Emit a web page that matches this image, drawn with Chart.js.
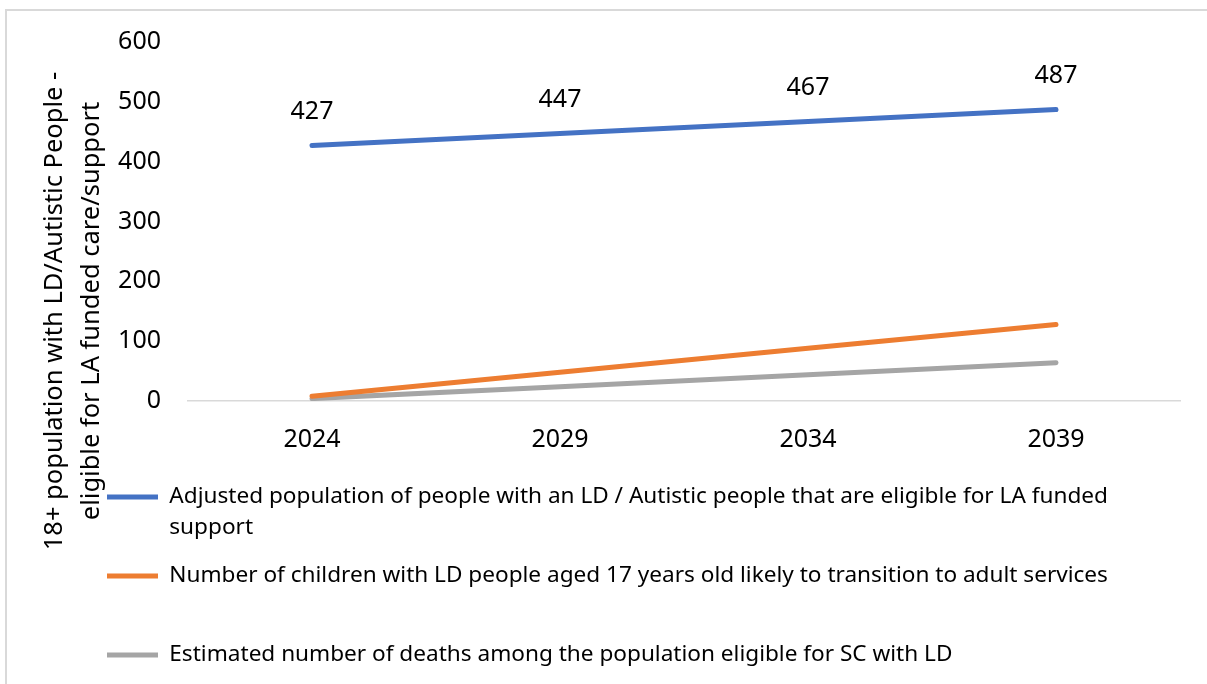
<!DOCTYPE html>
<html><head><meta charset="utf-8">
<script src="https://cdn.jsdelivr.net/npm/chart.js@4.4.1/dist/chart.umd.min.js"></script>
<style>
html,body{margin:0;padding:0;background:#fff;overflow:hidden;}
#frame{position:absolute;left:5px;top:9px;width:1400px;height:900px;border:2px solid #d9d9d9;box-sizing:border-box;}
#wrap{position:absolute;left:0;top:0;width:1207px;height:684px;}
</style></head><body>
<div id="frame"></div>
<div id="wrap"><canvas id="c" width="1207" height="684"></canvas></div>
<script>
const categories = ['2024', '2029', '2034', '2039'];
const adjustedPopulation = [427, 447, 467, 487];
const transitionsToAdult = [8, 48, 88, 128];
const estimatedDeaths = [4, 24, 44, 64];
const seriesNames = [
  ['Adjusted population of people with an LD / Autistic people that are eligible for LA funded', 'support'],
  'Number of children with LD people aged 17 years old likely to transition to adult services',
  'Estimated number of deaths among the population eligible for SC with LD'
];
const yAxisTitle = ['18+ population with LD/Autistic People -', 'eligible for LA funded care/support'];
const yMin = 0, yMax = 600, yStep = 100;

const FONT = 'Noto Sans';
const FS_TICK = 25;
const FS_LEGEND = 22.6;
const FS_TITLE = 25.5;
const TXT = '#000000';
const LEG_PAD = 56.4;
const LEG_TOP = 429.3;

const labelPlugin = {
  id: 'valueLabels',
  afterDatasetsDraw(chart) {
    const ctx = chart.ctx;
    const meta = chart.getDatasetMeta(0);
    const ds = chart.data.datasets[0];
    ctx.save();
    ctx.font = FS_TICK + 'px "' + FONT + '"';
    ctx.fillStyle = TXT;
    ctx.textAlign = 'center';
    ctx.textBaseline = 'middle';
    meta.data.forEach((pt, i) => {
      ctx.fillText(String(ds.data[i]), pt.x, pt.y - 34);
    });
    ctx.restore();
  }
};

const yTitlePlugin = {
  id: 'yTitle',
  afterDraw(chart) {
    const ctx = chart.ctx;
    ctx.save();
    ctx.font = FS_TITLE + 'px "' + FONT + '"';
    ctx.fillStyle = TXT;
    ctx.textAlign = 'center';
    ctx.textBaseline = 'alphabetic';
    const baselines = [62, 98.5];
    yAxisTitle.forEach((line, i) => {
      ctx.save();
      ctx.translate(baselines[i], 311);
      ctx.rotate(-Math.PI / 2);
      ctx.fillText(line, 0, 0);
      ctx.restore();
    });
    ctx.restore();
  }
};

const legendShift = {
  id: 'legendShift',
  afterLayout(chart) {
    const lg = chart.legend;
    if (!lg) return;
    lg.top = LEG_TOP;
    lg.bottom = chart.height;
    lg.height = lg.bottom - lg.top;
  }
};

const mk = (label, data, color) => ({
  label, data,
  borderColor: color, backgroundColor: color,
  borderWidth: 5, borderCapStyle: 'round', borderJoinStyle: 'round',
  pointRadius: 0, pointHoverRadius: 0, tension: 0, fill: false
});

new Chart(document.getElementById('c'), {
  type: 'line',
  data: {
    labels: categories,
    datasets: [
      mk(seriesNames[0], adjustedPopulation, '#4472C4'),
      mk(seriesNames[1], transitionsToAdult, '#ED7D31'),
      mk(seriesNames[2], estimatedDeaths, '#A5A5A5')
    ]
  },
  options: {
    responsive: false,
    animation: false,
    devicePixelRatio: 1,
    layout: { padding: { left: 107 - LEG_PAD, right: 27, top: 41, bottom: 0 } },
    scales: {
      x: {
        offset: true,
        grid: { display: false, drawTicks: false },
        border: { display: true, color: '#d9d9d9', width: 1.5 },
        ticks: { color: TXT, font: { family: FONT, size: FS_TICK }, padding: 24, maxRotation: 0, autoSkip: false },
        afterFit: (s) => { s.height = 56; }
      },
      y: {
        min: yMin, max: yMax,
        grid: { display: false, drawTicks: false },
        border: { display: false },
        ticks: { stepSize: yStep, color: TXT, font: { family: FONT, size: FS_TICK }, padding: 27 },
        afterFit: (s) => { s.width = 188 - (107 - LEG_PAD); }
      }
    },
    plugins: {
      legend: {
        position: 'bottom',
        align: 'start',
        maxHeight: 684 - 401 - 56,
        labels: {
          usePointStyle: true,
          pointStyle: 'line',
          pointStyleWidth: 51,
          padding: LEG_PAD,
          color: TXT,
          font: { family: FONT, size: FS_LEGEND, lineHeight: 1.37 }
        }
      },
      tooltip: { enabled: false }
    }
  },
  plugins: [labelPlugin, yTitlePlugin, legendShift]
});
</script>
</body></html>
